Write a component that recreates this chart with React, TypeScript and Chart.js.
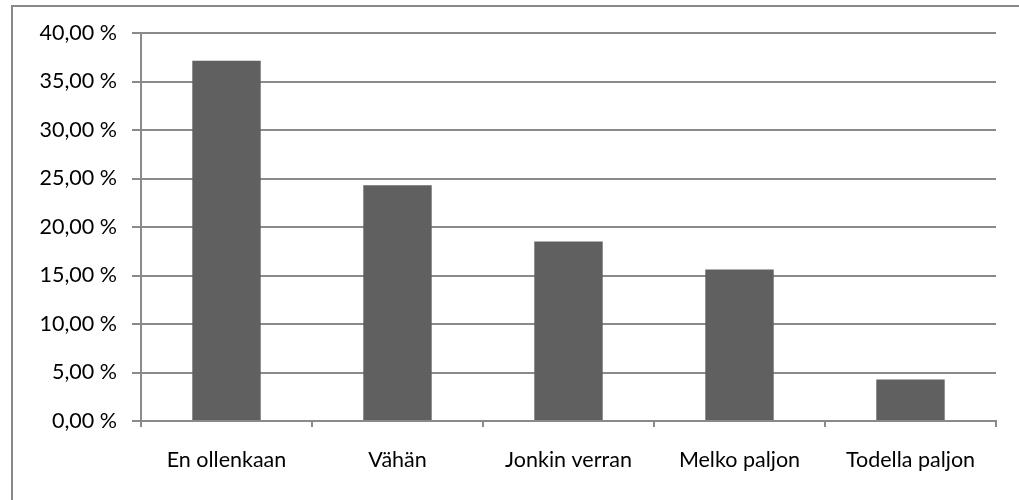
import React, { useEffect, useRef } from "react";
import { Chart, registerables } from "chart.js";

Chart.register(...registerables);

const categories = ["En ollenkaan", "Vähän", "Jonkin verran", "Melko paljon", "Todella paljon"];
const values = [37.14, 24.31, 18.5, 15.62, 4.28];
const yTicks = [0, 5, 10, 15, 20, 25, 30, 35, 40];

const FONT = "Lato, 'Open Sans', sans-serif";
const GRID = "#8a8a8a";

export default function App() {
  const ref = useRef<HTMLCanvasElement | null>(null);

  useEffect(() => {
    if (!ref.current) return;
    const chart = new Chart(ref.current, {
      type: "bar",
      data: {
        labels: categories,
        datasets: [
          {
            data: values,
            backgroundColor: "#606060",
            borderWidth: 0,
            barPercentage: 0.4,
            categoryPercentage: 1,
          },
        ],
      },
      options: {
        responsive: false,
        animation: false,
        layout: { padding: { left: 0, right: 23, top: 33, bottom: 0 } },
        plugins: { legend: { display: false }, tooltip: { enabled: false } },
        scales: {
          x: {
            offset: true,
            grid: {
              display: true,
              offset: true,
              drawOnChartArea: false,
              drawTicks: true,
              tickLength: 6,
              color: GRID,
              lineWidth: 2,
            },
            border: { display: true, color: GRID, width: 2 },
            ticks: {
              font: { family: FONT, size: 21.5 },
              color: "#000",
              padding: 20,
              maxRotation: 0,
              autoSkip: false,
            },
            afterFit: (s: any) => {
              s.height = 79;
            },
          },
          y: {
            min: 0,
            max: 40,
            afterBuildTicks: (s: any) => {
              s.ticks = yTicks.map((v) => ({ value: v }));
            },
            grid: {
              color: GRID,
              lineWidth: 2,
              tickLength: 9,
              drawTicks: true,
            },
            border: { display: true, color: GRID, width: 2 },
            ticks: {
              font: { family: FONT, size: 21.5 },
              color: "#000",
              padding: 15,
              callback: (v: any) => Number(v).toFixed(2).replace(".", ",") + " %",
            },
            afterFit: (s: any) => {
              s.width = 141;
            },
          },
        },
      },
    });
    return () => chart.destroy();
  }, []);

  return (
    <div
      style={{
        position: "absolute",
        left: 0,
        top: 0,
        width: 1019,
        height: 500,
        overflow: "hidden",
        background: "#fff",
      }}
    >
      <div
        style={{
          position: "absolute",
          left: 11,
          top: 5,
          width: 1100,
          height: 600,
          border: "2px solid #888",
          boxSizing: "border-box",
        }}
      />
      <canvas
        ref={ref}
        width={1019}
        height={500}
        style={{ position: "absolute", left: 0, top: 0, width: 1019, height: 500 }}
      />
    </div>
  );
}
